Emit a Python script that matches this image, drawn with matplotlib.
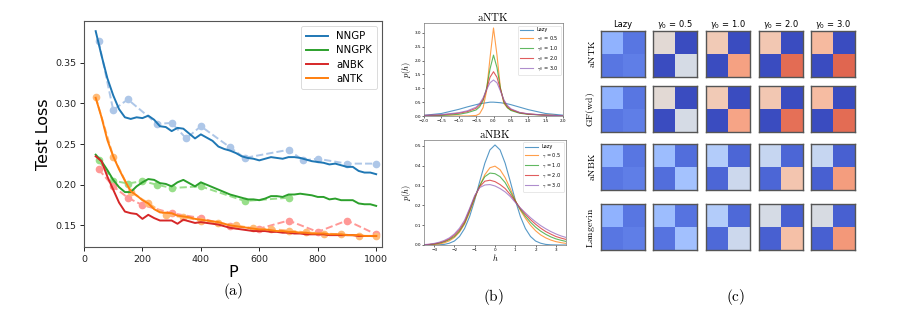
import numpy as np
import matplotlib
matplotlib.use("Agg")
import matplotlib.pyplot as plt

plt.rcParams['mathtext.fontset'] = 'cm'

# ---------------- data: panel (a) ----------------
P_solid = list(range(40, 1001, 20))
nngp_solid = [0.389, 0.359, 0.331, 0.310, 0.293, 0.283, 0.281, 0.283, 0.282, 0.285,
              0.280, 0.272, 0.271, 0.266, 0.270, 0.269, 0.263, 0.257, 0.262, 0.258,
              0.254, 0.247, 0.244, 0.242, 0.239, 0.235, 0.233, 0.232, 0.230, 0.232,
              0.234, 0.233, 0.232, 0.234, 0.234, 0.233, 0.231, 0.229, 0.228, 0.227,
              0.225, 0.226, 0.224, 0.222, 0.222, 0.217, 0.215, 0.215, 0.213]
nngpk_solid = [0.237, 0.229, 0.218, 0.206, 0.197, 0.191, 0.191, 0.198, 0.203, 0.207,
               0.206, 0.202, 0.201, 0.198, 0.203, 0.206, 0.202, 0.198, 0.203, 0.200,
               0.197, 0.194, 0.191, 0.188, 0.186, 0.184, 0.182, 0.182, 0.181, 0.183,
               0.186, 0.186, 0.185, 0.188, 0.188, 0.189, 0.188, 0.187, 0.185, 0.185,
               0.182, 0.183, 0.181, 0.181, 0.181, 0.177, 0.176, 0.176, 0.174]
anbk_solid = [0.235, 0.229, 0.210, 0.194, 0.178, 0.167, 0.165, 0.164, 0.158, 0.163,
              0.159, 0.156, 0.156, 0.156, 0.152, 0.157, 0.155, 0.153, 0.154, 0.153,
              0.152, 0.151, 0.149, 0.147, 0.146, 0.145, 0.144, 0.143, 0.143, 0.143,
              0.142, 0.142, 0.141, 0.141, 0.140, 0.140, 0.139, 0.139, 0.139, 0.139,
              0.138, 0.138, 0.138, 0.138, 0.138, 0.137, 0.137, 0.137, 0.137]
antk_solid = [0.307, 0.283, 0.255, 0.235, 0.219, 0.205, 0.192, 0.187, 0.181, 0.177,
              0.170, 0.166, 0.1655, 0.165, 0.162, 0.161, 0.160, 0.158, 0.157, 0.156,
              0.155, 0.154, 0.152, 0.150, 0.149, 0.148, 0.147, 0.146, 0.145, 0.145,
              0.144, 0.143, 0.143, 0.142, 0.142, 0.141, 0.141, 0.140, 0.140, 0.140,
              0.139, 0.139, 0.139, 0.138, 0.138, 0.138, 0.137, 0.137, 0.137]

P_nngp_pts = [50, 100, 150, 250, 300, 350, 400, 500, 550, 700, 750, 800, 900, 1000]
nngp_pts = [0.377, 0.292, 0.305, 0.275, 0.276, 0.257, 0.272, 0.246, 0.233, 0.243,
            0.230, 0.232, 0.226, 0.226]
P_nngpk_pts = [50, 100, 150, 200, 250, 300, 400, 550, 700]
nngpk_pts = [0.230, 0.205, 0.2015, 0.2045, 0.200, 0.196, 0.198, 0.180, 0.184]
P_anbk_pts = [50, 100, 150, 200, 300, 400, 500, 600, 700, 800, 900, 1000]
anbk_pts = [0.219, 0.198, 0.184, 0.175, 0.165, 0.159, 0.149, 0.146, 0.156, 0.142,
            0.156, 0.139]
P_antk_pts = [40, 100, 160, 220, 280, 340, 400, 460, 520, 580, 640, 700, 760, 820,
              880, 940, 1000]
antk_pts = [0.308, 0.2347, 0.191, 0.1774, 0.163, 0.160, 0.156, 0.153, 0.150, 0.1463,
            0.1455, 0.1435, 0.1414, 0.140, 0.139, 0.1373, 0.1365]

series_names = ["NNGP", "NNGPK", "aNBK", "aNTK"]

# ---------------- data: panel (b) ----------------
h_top = [-2.0, -1.5, -1.0, -0.75, -0.5, -0.4, -0.3, -0.2, -0.1, 0.0, 0.1, 0.2, 0.3,
         0.4, 0.5, 0.75, 1.0, 1.5, 2.0]
ntk_lazy = [0.025, 0.09, 0.24, 0.33, 0.41, 0.44, 0.46, 0.48, 0.50, 0.50, 0.49, 0.48,
            0.46, 0.44, 0.41, 0.32, 0.23, 0.09, 0.03]
ntk_g05 = [0.0, 0.0, 0.0, 0.0, 0.02, 0.08, 0.30, 0.90, 2.10, 3.18, 2.20, 1.00, 0.45,
           0.30, 0.22, 0.12, 0.07, 0.03, 0.01]
ntk_g10 = [0.01, 0.02, 0.06, 0.12, 0.22, 0.33, 0.55, 1.00, 1.70, 2.20, 1.75, 1.00,
           0.50, 0.30, 0.20, 0.10, 0.06, 0.03, 0.01]
ntk_g20 = [0.02, 0.04, 0.10, 0.16, 0.28, 0.40, 0.60, 0.95, 1.40, 1.60, 1.40, 0.95,
           0.55, 0.35, 0.24, 0.12, 0.07, 0.03, 0.01]
ntk_g30 = [0.02, 0.05, 0.12, 0.19, 0.32, 0.45, 0.65, 0.95, 1.20, 1.30, 1.20, 0.90,
           0.58, 0.38, 0.26, 0.13, 0.08, 0.03, 0.01]

h_bot = [-3.5, -3.25, -3.0, -2.75, -2.5, -2.25, -2.0, -1.75, -1.5, -1.25, -1.0, -0.75,
         -0.5, -0.25, 0.0, 0.25, 0.5, 0.75, 1.0, 1.25, 1.5, 1.75, 2.0, 2.25, 2.5, 2.75,
         3.0, 3.25, 3.5]
nbk_lazy = [0.0, 0.0, 0.0003, 0.001, 0.003, 0.009, 0.020, 0.043, 0.083, 0.144, 0.227,
            0.322, 0.413, 0.480, 0.505, 0.480, 0.413, 0.322, 0.227, 0.144, 0.083,
            0.043, 0.020, 0.009, 0.003, 0.001, 0.0003, 0.0, 0.0]
nbk_g05 = [0.0, 0.001, 0.003, 0.005, 0.011, 0.021, 0.038, 0.065, 0.105, 0.165, 0.235,
           0.300, 0.355, 0.390, 0.398, 0.380, 0.340, 0.285, 0.225, 0.175, 0.135, 0.100,
           0.072, 0.051, 0.036, 0.025, 0.017, 0.012, 0.008]
nbk_g10 = [0.001, 0.002, 0.005, 0.009, 0.016, 0.027, 0.043, 0.070, 0.110, 0.172, 0.240,
           0.300, 0.345, 0.363, 0.360, 0.345, 0.315, 0.270, 0.222, 0.180, 0.145, 0.115,
           0.090, 0.070, 0.054, 0.041, 0.031, 0.024, 0.018]
nbk_g20 = [0.001, 0.003, 0.006, 0.011, 0.019, 0.031, 0.050, 0.077, 0.117, 0.180, 0.245,
           0.295, 0.322, 0.327, 0.320, 0.305, 0.285, 0.255, 0.220, 0.185, 0.155, 0.128,
           0.105, 0.085, 0.068, 0.055, 0.043, 0.035, 0.028]
nbk_g30 = [0.002, 0.004, 0.008, 0.014, 0.023, 0.036, 0.056, 0.085, 0.125, 0.185, 0.250,
           0.290, 0.303, 0.305, 0.298, 0.285, 0.268, 0.245, 0.215, 0.187, 0.162, 0.138,
           0.117, 0.098, 0.082, 0.068, 0.056, 0.046, 0.038]

top_labels = ["Lazy", r"$\gamma_0$ = 0.5", r"$\gamma_0$ = 1.0", r"$\gamma_0$ = 2.0", r"$\gamma_0$ = 3.0"]
bot_labels = ["Lazy", r"$\gamma$ = 0.5", r"$\gamma$ = 1.0", r"$\gamma$ = 2.0", r"$\gamma$ = 3.0"]

# ---------------- data: panel (c) ----------------
col_titles = ["Lazy", r"$\gamma_0$ = 0.5", r"$\gamma_0$ = 1.0", r"$\gamma_0$ = 2.0", r"$\gamma_0$ = 3.0"]
row_titles = ["aNTK", "GF(wd)", "aNBK", "Langevin"]
# [top-left block, off-diagonal blocks, bottom-right block]
blocks_antk = [[0.26, 0.10, 0.12], [0.52, 0.0, 0.47], [0.60, 0.0, 0.73], [0.61, 0.0, 0.85], [0.66, 0.0, 0.86]]
blocks_gf = [[0.26, 0.10, 0.12], [0.52, 0.0, 0.47], [0.60, 0.0, 0.72], [0.61, 0.0, 0.84], [0.65, 0.0, 0.85]]
blocks_anbk = [[0.26, 0.10, 0.12], [0.30, 0.08, 0.32], [0.36, 0.06, 0.44], [0.42, 0.06, 0.62], [0.42, 0.05, 0.74]]
blocks_lang = [[0.26, 0.10, 0.12], [0.30, 0.09, 0.31], [0.36, 0.07, 0.44], [0.47, 0.05, 0.64], [0.48, 0.05, 0.75]]

W, H = 897, 311
fig = plt.figure(figsize=(W / 100, H / 100), dpi=100)


def rect(l, t, r, b):
    return [l / W, 1 - b / H, (r - l) / W, (b - t) / H]


# ---------------- panel (a) ----------------
ax = fig.add_axes(rect(84, 21, 382, 247))
solid_cols = ["#1f77b4", "#2ca02c", "#d62728", "#ff7f0e"]
light_cols = ["#aec7e8", "#98df8a", "#ff9896", "#ffbb78"]
pts = [(P_nngp_pts, nngp_pts), (P_nngpk_pts, nngpk_pts), (P_anbk_pts, anbk_pts), (P_antk_pts, antk_pts)]
solids = [nngp_solid, nngpk_solid, anbk_solid, antk_solid]
for (px, py), c in zip(pts, light_cols):
    ax.plot(px, py, "--o", color=c, lw=1.4, ms=4.5, zorder=2)
for ys, c, name in zip(solids, solid_cols, series_names):
    ax.plot(P_solid, ys, "-", color=c, lw=1.4, label=name, zorder=3)
ax.set_xlim(0, 1020)
ax.set_ylim(0.1234, 0.4015)
ax.set_xticks([0, 200, 400, 600, 800, 1000])
ax.set_yticks([0.15, 0.20, 0.25, 0.30, 0.35])
ax.tick_params(labelsize=6.8, length=3, width=0.7, colors="#222", pad=2.5)
for s in ax.spines.values():
    s.set_linewidth(0.8)
    s.set_color("#555")
ax.set_xlabel("P", fontsize=11.5, labelpad=1)
ax.set_ylabel("Test Loss", fontsize=11.5, labelpad=3)
leg = ax.legend(loc="upper right", fontsize=7.3, handlelength=2.2, borderpad=0.5,
                labelspacing=0.42, frameon=True)
leg.get_frame().set_linewidth(0.6)
fig.text(233 / W, 1 - 291 / H, r"$\mathrm{(a)}$", ha="center", va="center", fontsize=11)

# ---------------- panel (b) ----------------
tab = ["#1f77b4", "#ff7f0e", "#2ca02c", "#d62728", "#9467bd"]
axt = fig.add_axes(rect(424, 23, 563, 116))
for ys, c, lab in zip([ntk_lazy, ntk_g05, ntk_g10, ntk_g20, ntk_g30], tab, top_labels):
    axt.plot(h_top, ys, color=c, lw=0.8, alpha=0.75, label=lab)
axt.set_xlim(-2, 2)
axt.set_ylim(0, 3.36)
axt.set_xticks(np.arange(-2, 2.01, 0.5))
axt.set_yticks(np.arange(0, 3.01, 0.5))
axt.tick_params(labelsize=3, length=1.2, width=0.4, pad=1)
for s in axt.spines.values():
    s.set_linewidth(0.5)
    s.set_color("#777")
axt.set_ylabel(r"$p(h)$", fontsize=6, labelpad=1)
axt.set_title(r"$\mathrm{aNTK}$", fontsize=8, pad=1.5)
lg = axt.legend(loc="upper right", fontsize=3.6, handlelength=2.5, borderpad=0.4,
                labelspacing=0.35, framealpha=0.8)
lg.get_frame().set_linewidth(0.4)

axb = fig.add_axes(rect(424, 140, 566, 245))
for ys, c, lab in zip([nbk_lazy, nbk_g05, nbk_g10, nbk_g20, nbk_g30], tab, bot_labels):
    axb.plot(h_bot, ys, color=c, lw=0.8, alpha=0.75, label=lab)
axb.set_xlim(-3.5, 3.5)
axb.set_ylim(0, 0.53)
axb.set_xticks([-3, -2, -1, 0, 1, 2, 3])
axb.set_yticks(np.arange(0, 0.51, 0.1))
axb.tick_params(labelsize=3, length=1.2, width=0.4, pad=1)
for s in axb.spines.values():
    s.set_linewidth(0.5)
    s.set_color("#777")
axb.set_ylabel(r"$p(h)$", fontsize=6, labelpad=1)
axb.set_xlabel(r"$h$", fontsize=6, labelpad=0)
axb.set_title(r"$\mathrm{aNBK}$", fontsize=8, pad=1.5)
lg = axb.legend(loc="upper right", fontsize=3.6, handlelength=2.5, borderpad=0.4,
                labelspacing=0.35, framealpha=0.8)
lg.get_frame().set_linewidth(0.4)
fig.text(493 / W, 1 - 297 / H, r"$\mathrm{(b)}$", ha="center", va="center", fontsize=11)

# ---------------- panel (c) ----------------
col_left = [601, 653.3, 706, 758.7, 811]
row_top = [30.7, 86, 144, 204.3]
cw, ch = 44, 46
n = 20
all_blocks = [blocks_antk, blocks_gf, blocks_anbk, blocks_lang]
for i, blocks in enumerate(all_blocks):
    for j, (tl, off, br) in enumerate(blocks):
        M = np.full((n, n), off, dtype=float)
        M[: n // 2, : n // 2] = tl
        M[n // 2:, n // 2:] = br
        axh = fig.add_axes(rect(col_left[j], row_top[i], col_left[j] + cw, row_top[i] + ch))
        axh.imshow(M, cmap="coolwarm", vmin=0, vmax=1, aspect="auto", interpolation="nearest")
        axh.set_xticks([])
        axh.set_yticks([])
        for s in axh.spines.values():
            s.set_linewidth(1.0)
            s.set_color("#555")
        if i == 0:
            axh.set_title(col_titles[j], fontsize=6, pad=2.5, math_fontfamily="dejavusans")
        if j == 0:
            axh.set_ylabel(r"$\mathrm{" + row_titles[i] + "}$", fontsize=7, labelpad=3)
fig.text(736 / W, 1 - 297 / H, r"$\mathrm{(c)}$", ha="center", va="center", fontsize=11)

fig.savefig("out.png", dpi=100)
